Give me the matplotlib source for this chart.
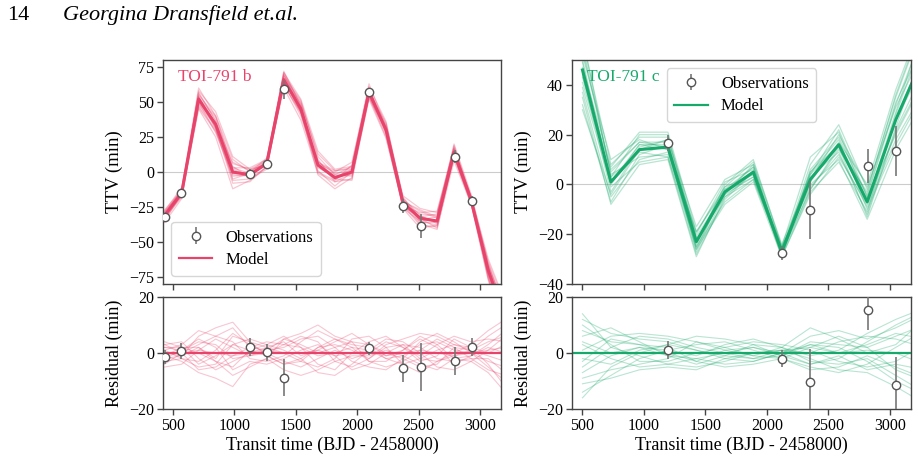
import numpy as np
import matplotlib.pyplot as plt

plt.rcParams['font.family'] = ['Liberation Serif', 'DejaVu Serif']

#%% data

red = '#e8436b'
green = '#17a96b'

# TOI-791 b
epochs_b = [431, 570, 708, 847, 986, 1125, 1263, 1402, 1541, 1680, 1818,
            1957, 2096, 2235, 2373, 2512, 2651, 2789, 2928, 3067, 3206]
model_b = [-31, -15, 52, 34, 0, -2, 6, 66, 45, 5, -4,
           0, 57, 30, -22, -33, -35, 14, -20, -70, -105]
obs_t_b = [432, 567, 1129, 1265, 1403, 2100, 2377, 2518, 2795, 2935]
obs_ttv_b = [-32, -15, -1.5, 5.8, 59, 57, -24.3, -38.5, 11, -20.5]
obs_res_b = [-1.4, 0.7, 2.2, 0.3, -8.8, 1.7, -5.5, -5.0, -2.8, 2.1]
obs_err_b = [2.5, 2.8, 3.3, 3.0, 6.7, 2.4, 4.7, 8.5, 4.9, 3.1]

# posterior draws, offset from the median model (min)
draws_b = [
    [2, 1, 4, 3, -2, -1, 0, 3, 2, -1, 0, 2, 1, -2, -1, 3, 4, 1, 0, -3, -5],
    [-3, -2, -5, -4, 3, 1, -1, -4, -3, 2, 3, 1, -2, 2, 3, -2, -3, -1, 1, 4, 6],
    [1, 3, 8, 6, 9, 2, 1, 5, 7, 10, 6, 4, 3, 0, -2, -5, -4, 2, 1, 6, 10],
    [-1, -3, -7, -9, -12, -4, -2, -6, -8, -6, -3, -5, -2, 3, 5, 7, 6, 3, 2, -4, -12],
    [4, 2, 0, -3, -5, 1, 3, 6, 2, -4, -6, 0, 4, 6, 2, -3, -1, 5, 2, 0, 3],
    [-4, 0, 3, 6, 4, -2, -3, -1, 4, 8, 5, 2, -3, -5, -3, 1, 5, 2, -2, -6, -8],
    [0, -1, 2, -2, 6, 4, 2, 0, -3, -5, -2, 5, 6, 2, -4, -7, -3, 0, 3, 8, 12],
    [3, 4, -2, -6, -3, 0, 2, 4, -1, 1, 4, 7, 3, -1, 1, 5, 2, -4, -1, 2, 0],
    [-2, 1, 5, 2, -6, -3, -4, -2, 1, 3, -1, -6, -4, 0, 3, 2, -2, -3, -2, -2, -7],
    [1, -2, -3, 1, 7, 3, 0, -3, -5, -2, 1, -2, 0, 4, 2, -1, 3, 6, 4, 5, 4],
    [-5, -4, 1, 5, 2, -1, 1, 2, 5, 6, 2, -3, -5, -6, -2, 4, 7, 4, 0, -5, -10],
    [2, 2, -4, -1, 3, 5, 3, 1, -2, -7, -8, -4, 1, 5, 4, 0, -5, -6, -3, 1, 6],
    [0, 0, 1, 0, -1, 0, 1, 0, 0, 1, -1, 0, 1, -1, 0, 1, 0, -1, 0, 1, 2],
    [-2, -1, 6, 9, 11, 4, -1, -4, -2, 2, 5, 3, 2, -2, -4, -2, 1, 3, 1, -1, -3],
    [3, 0, -6, -5, -1, 2, 4, 3, 6, 4, -3, -1, -1, 1, -1, -4, -6, -2, -1, 3, 8],
    [-1, 2, 2, -3, -8, -5, -2, 5, 3, 0, 2, 4, -3, -3, 1, 6, 3, -2, -3, -7, -14],
]

# TOI-791 c
epochs_c = [503, 734, 966, 1197, 1428, 1660, 1891, 2122, 2354, 2585, 2816, 3048, 3279]
model_c = [46, 1, 14, 15, -23, -3, 5, -27, 2, 16, -7, 26, 52]
obs_t_c = [1197, 2127, 2355, 2819, 3052]
obs_ttv_c = [16.6, -27.5, -10.3, 7.4, 13.4]
obs_res_c = [1.1, -2.0, -10.4, 15.2, -11.6]
obs_err_c = [3.2, 2.9, 11.8, 7.0, 10.0]

draws_c = [
    [8, 4, 3, 2, -3, 1, 2, -1, 4, 3, 2, 6, 10],
    [-9, -6, -4, -2, 4, 2, -1, 2, -3, -4, -2, -8, -14],
    [12, 7, 5, 4, 1, -2, -3, 0, 6, 8, 5, 9, 14],
    [-14, -8, -2, 1, 3, 4, 1, -2, -6, -5, -1, -5, -9],
    [3, -2, -5, -4, -5, -3, 0, 1, 2, 0, 3, 7, 5],
    [-5, 2, 6, 5, 2, 0, -2, 1, -2, -6, -7, -12, -18],
    [6, 9, 4, -1, -4, -1, 3, 2, 9, 5, 0, 3, 12],
    [-2, -4, 1, 3, 6, 5, 3, -1, -4, -2, 4, 10, 15],
    [10, 3, -3, -3, 0, 2, 4, 3, 1, -3, -5, -3, 3],
    [-7, -1, 2, -1, -2, -4, -3, 0, 3, 2, -3, -10, -15],
    [1, 6, 7, 6, 4, 1, -1, -2, -5, -7, -4, 2, 8],
    [-11, -9, -6, -5, -6, -2, 0, 1, 0, 4, 6, 5, 2],
    [4, 0, 2, 1, -1, 3, 5, 2, -1, 1, 7, 12, 16],
    [-3, 5, 3, 0, -3, -5, -4, -2, 2, 6, 2, -6, -10],
    [14, 2, -1, -4, -2, 0, 2, 0, -4, -1, -6, -4, -6],
    [-16, -5, 0, 3, 1, -1, -2, -1, 3, 0, 1, 0, -4],
]

xticks = [500, 1000, 1500, 2000, 2500, 3000]

#%%

fig = plt.figure(figsize=(9.18, 4.58), dpi=100)

def style(ax):
    for s in ax.spines.values():
        s.set_color('#444444')
        s.set_linewidth(1.0)
    ax.tick_params(direction='out', length=4, width=1, color='#444444', labelsize=11.5,
                   pad=2.5)
    ax.set_xlim(418, 3172)
    ax.set_xticks(xticks)


def panel(ax_top, ax_res, epochs, model, draws, t, ttv, res, err, col, name, ylim, yticks, legloc):
    epochs = np.array(epochs)
    model = np.array(model)
    ax_top.axhline(0, color='#cccccc', lw=0.8, zorder=0)
    for d in draws:
        ax_top.plot(epochs, model + np.array(d), color=col, alpha=0.3, lw=0.9)
        ax_res.plot(epochs, d, color=col, alpha=0.3, lw=0.8)
    mline, = ax_top.plot(epochs, model, color=col, lw=2.2, label='Model')
    ax_res.axhline(0, color=col, lw=1.6)
    eb = ax_top.errorbar(t, ttv, yerr=err, fmt='o', color='#777777', mfc='white',
                         mec='#555555', ms=6, elinewidth=1.2, zorder=5, label='Observations')
    ax_res.errorbar(t, res, yerr=err, fmt='o', color='#777777', mfc='white',
                    mec='#555555', ms=6, elinewidth=1.2, zorder=5)
    ax_top.set_ylim(*ylim)
    ax_top.set_yticks(yticks)
    ax_top.set_xticklabels([])
    ax_res.set_ylim(-20, 20)
    ax_res.set_yticks([-20, 0, 20])
    ax_top.set_ylabel('TTV (min)', fontsize=13.5)
    ax_res.set_ylabel('Residual (min)', fontsize=13)
    ax_res.set_xlabel('Transit time (BJD - 2458000)', fontsize=13, labelpad=2)
    ax_top.text(0.045, 0.925, name, color=col, fontsize=12.5, transform=ax_top.transAxes,
                va='center')
    leg = ax_top.legend([eb, mline], ['Observations', 'Model'], loc=legloc, fontsize=12,
                        handlelength=2.0, borderpad=0.45, labelspacing=0.4)
    leg.get_lines()[0].set_linewidth(1.6)


axb = fig.add_axes([0.1776, 0.3799, 0.3682, 0.4891])
axb_r = fig.add_axes([0.1776, 0.1070, 0.3682, 0.2445])
axc = fig.add_axes([0.6231, 0.3799, 0.3693, 0.4891])
axc_r = fig.add_axes([0.6231, 0.1070, 0.3693, 0.2445])
for ax in (axb, axb_r, axc, axc_r):
    style(ax)

panel(axb, axb_r, epochs_b, model_b, draws_b, obs_t_b, obs_ttv_b, obs_res_b, obs_err_b,
      red, 'TOI-791 b', (-80, 80), [-75, -50, -25, 0, 25, 50, 75], 'lower left')
panel(axc, axc_r, epochs_c, model_c, draws_c, obs_t_c, obs_ttv_c, obs_res_c, obs_err_c,
      green, 'TOI-791 c', (-40, 50), [-40, -20, 0, 20, 40], 'upper center')

# page header
fig.text(7 / 918, 1 - 15 / 458, '14', fontsize=16, va='center')
fig.text(63 / 918, 1 - 15 / 458, 'Georgina Dransfield et.al.', fontsize=16,
         style='italic', va='center')

plt.savefig('out.png', dpi=100)
